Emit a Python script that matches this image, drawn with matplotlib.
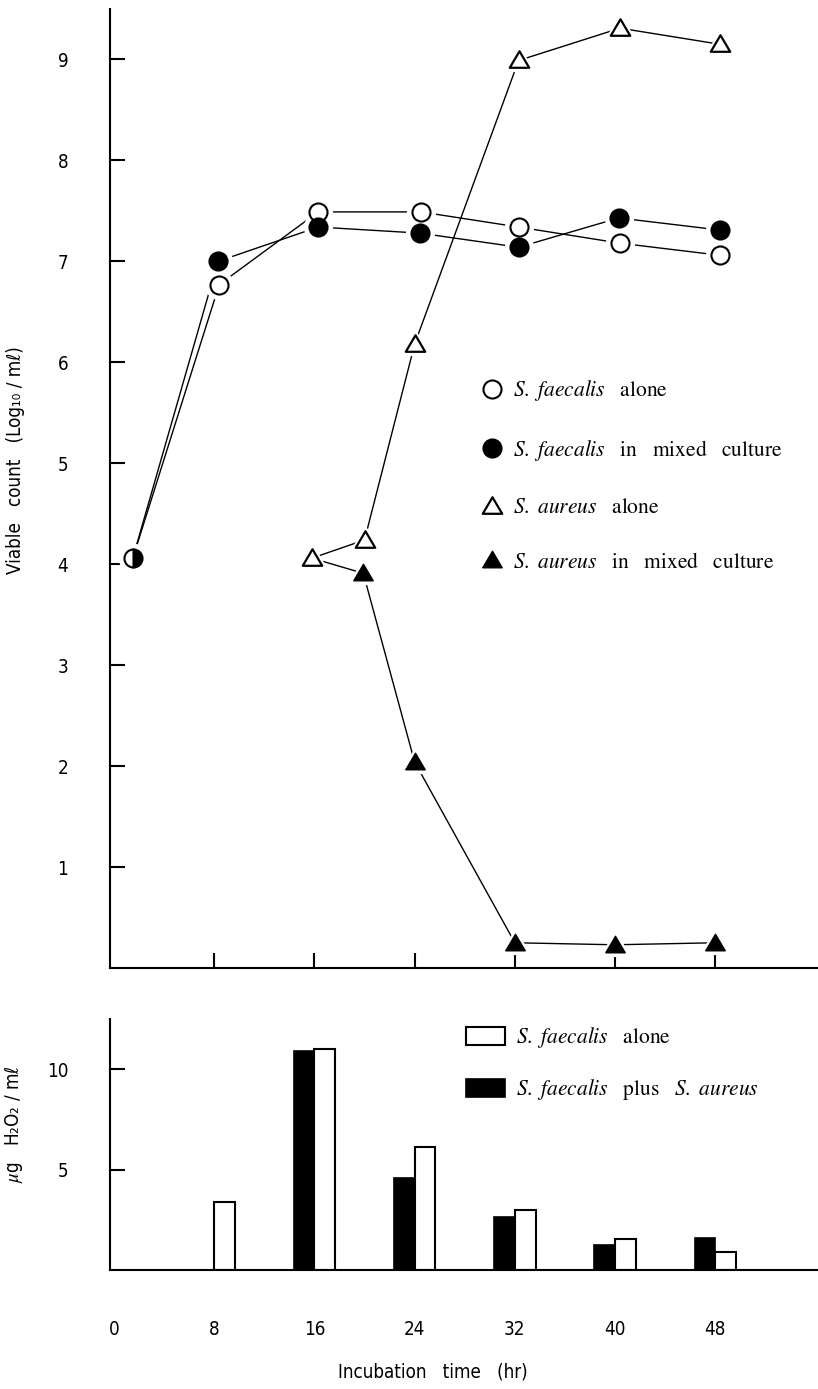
import matplotlib
matplotlib.use('Agg')
import matplotlib.pyplot as plt
from matplotlib.lines import Line2D
from matplotlib.path import Path
import matplotlib.font_manager as fm

plt.rcParams['mathtext.fontset'] = 'stix'

# ---------------- data ----------------
# Top panel: viable count (log10 / ml)
start_t = [1.5]
start_count = [4.06]

sf_alone_t = [1.5, 8.4, 16.3, 24.5, 32.3, 40.4, 48.4]
sf_alone = [4.06, 6.77, 7.49, 7.49, 7.34, 7.18, 7.06]

sf_mixed_t = [1.5, 8.3, 16.3, 24.4, 32.3, 40.3, 48.4]
sf_mixed = [4.06, 7.00, 7.34, 7.28, 7.14, 7.43, 7.31]

sa_alone_t = [15.8, 20.0, 24.0, 32.3, 40.4, 48.4]
sa_alone = [4.06, 4.24, 6.18, 8.99, 9.31, 9.15]

sa_mixed_t = [15.8, 19.9, 24.0, 32.0, 40.0, 48.0]
sa_mixed = [4.06, 3.91, 2.04, 0.25, 0.23, 0.25]

# Bottom panel: H2O2 (ug / ml)
h2o2_t = [8, 16, 24, 32, 40, 48]
h2o2_alone = [3.38, 11.0, 6.13, 2.98, 1.56, 0.91]
h2o2_mixed = [float('nan'), 10.9, 4.59, 2.65, 1.24, 1.61]

x_ticks = [0, 8, 16, 24, 32, 40, 48]
x_tick_labels = ['0', '8', '16', '24', '32', '40', '48']
top_yticks = [1, 2, 3, 4, 5, 6, 7, 8, 9]
bot_yticks = [5, 10]

# ---------------- style ----------------
avail = {f.name for f in fm.fontManager.ttflist}
narrow = 'Liberation Sans Narrow' if 'Liberation Sans Narrow' in avail else 'DejaVu Sans'
sans_fam = [narrow, 'DejaVu Sans']
STRETCH = 'condensed'

W, H = 818, 1389
fig = plt.figure(figsize=(W / 100, H / 100), dpi=100)

def px_axes(x0, y0, x1, y1):
    return fig.add_axes([x0 / W, 1 - y1 / H, (x1 - x0) / W, (y1 - y0) / H])

ax = px_axes(110, 9, 818, 968)
bx = px_axes(110, 1019, 818, 1270)

XL = (-0.32, 56.2)
tick_fs = 13.5
spine_lw = 1.5

for a in (ax, bx):
    a.spines['top'].set_visible(False)
    a.spines['right'].set_visible(False)
    a.spines['left'].set_linewidth(spine_lw)
    a.spines['bottom'].set_linewidth(spine_lw)
    a.set_xlim(*XL)
    a.set_facecolor('white')

# ---- top panel ----
line_kw = dict(color='black', lw=1.0, zorder=1)
ax.plot(sf_alone_t, sf_alone, **line_kw)
ax.plot(sf_mixed_t, sf_mixed, **line_kw)
ax.plot(sa_alone_t, sa_alone, **line_kw)
ax.plot(sa_mixed_t, sa_mixed, **line_kw)

tri = Path([(-1.0, -0.75), (1.0, -0.75), (0.0, 0.95), (-1.0, -0.75)], closed=True)
ms_c = 13
ms_t = 14
halo = dict(ls='none', color='white', mec='white', zorder=2)
# white halos give the gaps between lines and markers
ax.plot(sf_alone_t, sf_alone, marker='o', ms=ms_c + 7, **halo)
ax.plot(sf_mixed_t, sf_mixed, marker='o', ms=ms_c + 7, **halo)
ax.plot(sa_alone_t, sa_alone, marker=tri, ms=ms_t + 7, **halo)
ax.plot(sa_mixed_t, sa_mixed, marker=tri, ms=ms_t + 7, **halo)

ax.plot(sf_alone_t, sf_alone, ls='none', marker='o', ms=ms_c, mfc='white',
        mec='black', mew=1.5, markevery=slice(1, None), zorder=3)
ax.plot(sf_mixed_t, sf_mixed, ls='none', marker='o', ms=ms_c, mfc='black',
        mec='black', mew=1.5, markevery=slice(1, None), zorder=3)
ax.plot(sa_alone_t, sa_alone, ls='none', marker=tri, ms=ms_t, mfc='white',
        mec='black', mew=1.6, zorder=3)
ax.plot(sa_mixed_t, sa_mixed, ls='none', marker=tri, ms=ms_t, mfc='black',
        mec='black', mew=1.0, markevery=slice(1, None), zorder=3)
ax.plot(start_t, start_count, ls='none', marker='o', ms=ms_c, fillstyle='right',
        mfc='black', mfcalt='white', mec='black', mew=1.5, zorder=3)

ax.set_ylim(0, 9.5)
ax.set_xticks(x_ticks[1:])
ax.set_xticklabels([])
ax.tick_params(axis='x', direction='in', length=11, width=1.5)
ax.set_yticks(top_yticks)
ax.set_yticklabels([str(v) for v in top_yticks])
ax.tick_params(axis='y', direction='in', length=11, width=1.5, pad=30,
               labelsize=tick_fs)
for lab in ax.get_yticklabels():
    lab.set_family(sans_fam)
    lab.set_fontstretch(STRETCH)

leg_handles = [
    Line2D([], [], ls='none', marker='o', ms=ms_c, mfc='white', mec='black', mew=1.5),
    Line2D([], [], ls='none', marker='o', ms=ms_c, mfc='black', mec='black', mew=1.5),
    Line2D([], [], ls='none', marker=tri, ms=ms_t, mfc='white', mec='black', mew=1.6),
    Line2D([], [], ls='none', marker=tri, ms=ms_t, mfc='black', mec='black', mew=1.0),
]
sp = r'\ \ \ '
leg_labels = [
    r'$\mathit{S.\ faecalis}' + sp + r'\mathrm{alone}$',
    r'$\mathit{S.\ faecalis}' + sp + r'\mathrm{in}' + sp + r'\mathrm{mixed}' + sp + r'\mathrm{culture}$',
    r'$\mathit{S.\ aureus}' + sp + r'\mathrm{alone}$',
    r'$\mathit{S.\ aureus}' + sp + r'\mathrm{in}' + sp + r'\mathrm{mixed}' + sp + r'\mathrm{culture}$',
]
ax.legend(leg_handles, leg_labels, loc='upper left',
          bbox_to_anchor=(0.527, 0.615), frameon=False, fontsize=15.5,
          handlelength=0.85, handletextpad=0.55, labelspacing=1.6,
          borderpad=0, borderaxespad=0)

ax.set_ylabel('Viable   count   (Log₁₀ ∕ mℓ)', family=sans_fam, fontsize=13.5,
              labelpad=0, fontstretch=STRETCH)
ax.yaxis.set_label_coords(-0.12, 0.53)

# ---- bottom panel ----
bw = 1.65
bx.bar(h2o2_t, h2o2_mixed, width=-bw, align='edge', color='black',
       edgecolor='black', lw=1.2,
       label=r'$\mathit{S.\ faecalis}' + sp + r'\mathrm{plus}' + sp + r'\mathit{S.\ aureus}$')
bx.bar(h2o2_t, h2o2_alone, width=bw, align='edge', color='white',
       edgecolor='black', lw=1.5,
       label=r'$\mathit{S.\ faecalis}' + sp + r'\mathrm{alone}$')
bx.set_ylim(0, 12.5)
bx.set_yticks(bot_yticks)
bx.set_yticklabels([str(v) for v in bot_yticks])
bx.tick_params(axis='y', direction='in', length=11, width=1.5, pad=30,
               labelsize=tick_fs)
bx.set_xticks(x_ticks)
bx.set_xticklabels(x_tick_labels)
bx.tick_params(axis='x', length=0, pad=36, labelsize=tick_fs)
for lab in bx.get_yticklabels() + bx.get_xticklabels():
    lab.set_family(sans_fam)
    lab.set_fontstretch(STRETCH)

hs, ls_ = bx.get_legend_handles_labels()
bx.legend(hs[::-1], ls_[::-1], loc='upper left', bbox_to_anchor=(0.5024, 0.975),
          frameon=False, fontsize=15.5, handlelength=1.83, handleheight=0.9,
          handletextpad=0.5, labelspacing=1.25, borderpad=0, borderaxespad=0)

bx.set_ylabel('$\\mu$g   H₂O₂ ∕ mℓ', family=sans_fam, fontsize=13.5, labelpad=0,
              fontstretch=STRETCH)
bx.yaxis.set_label_coords(-0.12, 0.58)

fig.text(433 / W, 1 - 1372 / H, 'Incubation   time   (hr)', family=sans_fam,
         fontsize=13.5, ha='center', va='center', fontstretch=STRETCH)

fig.savefig('out.png', dpi=100, facecolor='white')
